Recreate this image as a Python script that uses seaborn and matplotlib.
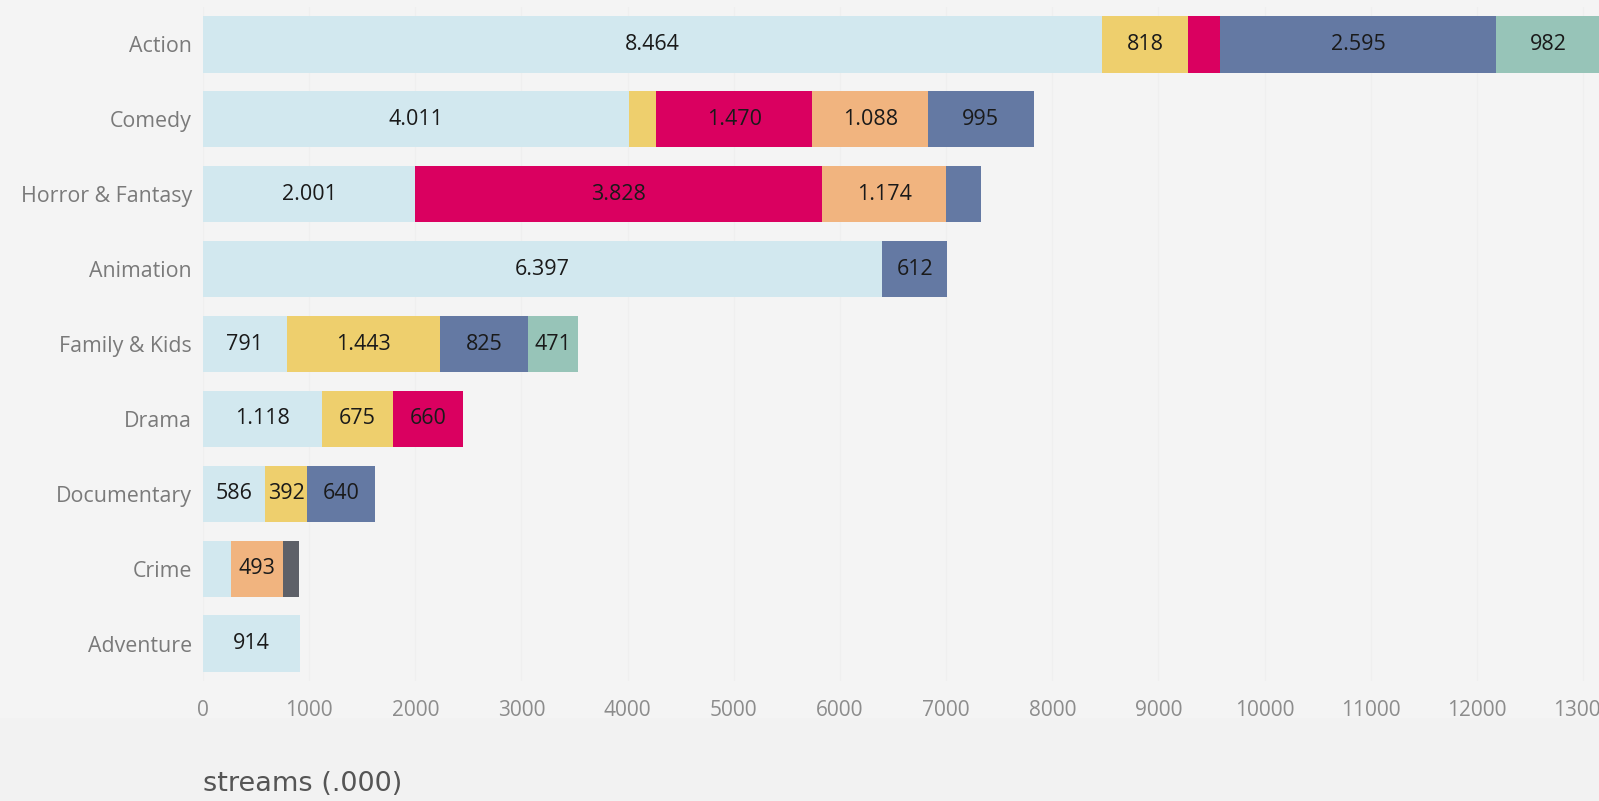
import matplotlib
matplotlib.use("Agg")
import matplotlib.pyplot as plt
import matplotlib.patches as mpatches
import numpy as np
import pandas as pd
import seaborn as sns

# ---- data ----
categories = ["Action", "Comedy", "Horror & Fantasy", "Animation", "Family & Kids",
              "Drama", "Documentary", "Crime", "Adventure"]
series_names = ["s_lightblue", "s_yellow", "s_red", "s_orange", "s_blue", "s_teal", "s_gray"]
s_lightblue = [8464, 4011, 2001, 6397, 791, 1118, 586, 260, 914]
s_yellow    = [818, 260, 0, 0, 1443, 675, 392, 0, 0]
s_red       = [300, 1470, 3828, 0, 0, 660, 0, 0, 0]
s_orange    = [0, 1088, 1174, 0, 0, 0, 0, 493, 0]
s_blue      = [2595, 995, 330, 612, 825, 0, 640, 0, 0]
s_teal      = [982, 0, 0, 0, 471, 0, 0, 0, 0]
s_gray      = [0, 0, 0, 0, 0, 0, 0, 150, 0]
series_colors = ["#d2e8ef", "#eecf6d", "#da0060", "#f1b47f", "#6479a3", "#97c4b8", "#5d6068"]
x_ticks = list(range(0, 14000, 1000))

series = [s_lightblue, s_yellow, s_red, s_orange, s_blue, s_teal, s_gray]
df = pd.DataFrame({n: v for n, v in zip(series_names, series)}, index=categories)
cum = df.cumsum(axis=1)

sns.set_theme(style="white")
plt.rcParams["font.family"] = ["Open Sans", "DejaVu Sans"]

W, H = 1599, 801
fig = plt.figure(figsize=(W / 100, H / 100), dpi=100)
fig.patch.set_facecolor("#f4f4f4")
fig.add_artist(mpatches.Rectangle((0, 0), 1, 83 / H, transform=fig.transFigure,
                                  facecolor="#f2f2f2", edgecolor="none", zorder=0))

ax = fig.add_axes([203 / W, (H - 681) / H, 1 - 203 / W, 674 / H])
ax.set_facecolor("none")

# draw cumulative layers from last to first so each covers the previous
for name, color in reversed(list(zip(series_names, series_colors))):
    d = pd.DataFrame({"genre": categories, "val": cum[name].values})
    sns.barplot(data=d, x="val", y="genre", order=categories, color=color,
                saturation=1, width=0.75, orient="h", errorbar=None, ax=ax,
                linewidth=0, zorder=3)

# labels
for i, cat in enumerate(categories):
    for name in series_names:
        v = df.loc[cat, name]
        if v >= 350:
            center = cum.loc[cat, name] - v / 2
            txt = f"{v:,}".replace(",", ".")
            ax.text(center, i, txt, ha="center", va="center", fontsize=15.5,
                    color="#1a1a1a", zorder=5)

ax.set_xlim(0, 13150)
ax.set_ylim(8.5, -0.5)
ax.set_xticks(x_ticks)
ax.set_xticklabels([str(t) for t in x_ticks], fontsize=15, color="#8c8c8c")
ax.tick_params(axis="x", length=0, pad=14)
ax.tick_params(axis="y", length=0, pad=8, labelsize=15.4, labelcolor="#7a7a7a")
ax.set_xlabel("")
ax.set_ylabel("")
for sp in ax.spines.values():
    sp.set_visible(False)
ax.grid(axis="x", color="#efefef", linewidth=1, zorder=0)
ax.set_axisbelow(True)

fig.text(203 / W, 1 - 784 / H, "streams (.000)", fontsize=19.5, color="#555555",
         ha="left", va="center", family=["DejaVu Sans"])

fig.savefig("out.png", dpi=100, facecolor=fig.get_facecolor())
